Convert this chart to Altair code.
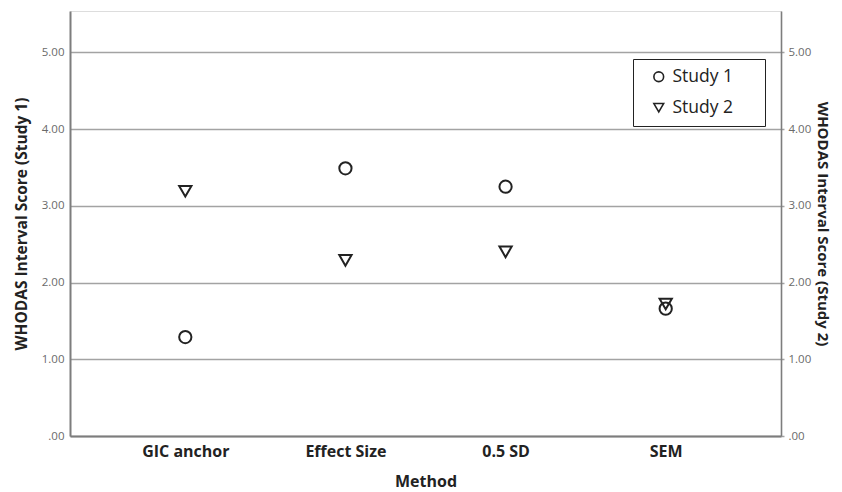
import altair as alt
import pandas as pd

methods = ["GIC anchor", "Effect Size", "0.5 SD", "SEM"]
study1 = [1.29, 3.49, 3.25, 1.66]
study2 = [3.19, 2.29, 2.40, 1.72]
studies = ["Study 1", "Study 2"]
y_ticks = [0, 1, 2, 3, 4, 5]

df = pd.DataFrame({
    "Method": methods * 2,
    "Score": study1 + study2,
    "Study": [studies[0]] * len(methods) + [studies[1]] * len(methods),
})

FONT = "Open Sans"
GRID = "#a3a3a3"
AXIS = "#7d7d7d"
INK = "#222222"
PAD = "\u00a0" * 2 + "\u2800"

ydom = alt.Scale(domain=[0, 5.54], nice=False, zero=True)
xenc = alt.X(
    "Method:N", sort=methods,
    scale=alt.Scale(type="point", padding=0.72),
    axis=alt.Axis(title="Method", labelAngle=0, ticks=False, domainColor=AXIS,
                  domainWidth=2, labelFontSize=16, labelFontWeight="bold",
                  labelColor=INK, labelPadding=7, titleFontSize=16,
                  titleFontWeight="bold", titleColor=INK, titlePadding=14,
                  grid=False, labelFont=FONT, titleFont=FONT),
)

legend = alt.Legend(
    title=None, orient="none", legendX=563, legendY=48,
    strokeColor=INK, fillColor="white", padding=9, rowPadding=12,
    symbolOffset=8, symbolSize=95, symbolStrokeWidth=1.6,
    symbolStrokeColor=INK, symbolFillColor="transparent", symbolType="circle",
    labelFontSize=17.5, labelColor=INK, labelFont=FONT, labelOffset=5,
    labelExpr="datum.label + '" + PAD + "'", labelLimit=300,
)
shape = alt.Shape("Study:N",
                  scale=alt.Scale(domain=studies, range=["circle", "triangle-down"]),
                  legend=legend)

label_expr = "datum.value == 0 ? '.00' : format(datum.value, '.2f')"

left = alt.Chart(df).transform_filter(alt.datum.Study == "Study 1").mark_point(
    filled=False, size=150, strokeWidth=2, color=INK, opacity=1
).encode(
    x=xenc,
    y=alt.Y("Score:Q", scale=ydom,
            axis=alt.Axis(orient="left", title="WHODAS Interval Score (Study 1)",
                          values=y_ticks, labelExpr=label_expr, grid=True,
                          gridColor=GRID, gridWidth=1.6, ticks=False,
                          domainColor=AXIS, domainWidth=2, labelFontSize=11.5,
                          labelColor="#6a6a6a", labelPadding=6, labelFont=FONT,
                          titleFont=FONT, titleFontSize=15.5, titleFontWeight="bold",
                          titleColor=INK, titlePadding=12)),
    shape=shape,
)

right = alt.Chart(df).transform_filter(alt.datum.Study == "Study 2").mark_point(
    filled=False, size=150, strokeWidth=2, color=INK, opacity=1
).encode(
    x=xenc,
    y=alt.Y("Score:Q", scale=ydom,
            axis=alt.Axis(orient="right", title="WHODAS Interval Score (Study 2)",
                          values=y_ticks, labelExpr=label_expr, grid=False,
                          ticks=True, tickSize=3, tickColor=GRID, tickWidth=1.5,
                          domainColor=AXIS, domainWidth=1.6, labelFontSize=11.5,
                          labelColor="#6a6a6a", labelPadding=4, labelFont=FONT,
                          titleFont=FONT, titleFontSize=15, titleFontWeight="bold",
                          titleColor=INK, titlePadding=4)),
    shape=shape,
)

chart = alt.layer(left, right).resolve_scale(y="independent").properties(
    width=711, height=425,
    autosize=alt.AutoSizeParams(type="none"),
    padding={"left": 62, "top": 3, "right": 53, "bottom": 55},
).configure_view(stroke=None).configure(font=FONT)

chart.save("out.html", embed_options={"renderer": "svg", "actions": False})
